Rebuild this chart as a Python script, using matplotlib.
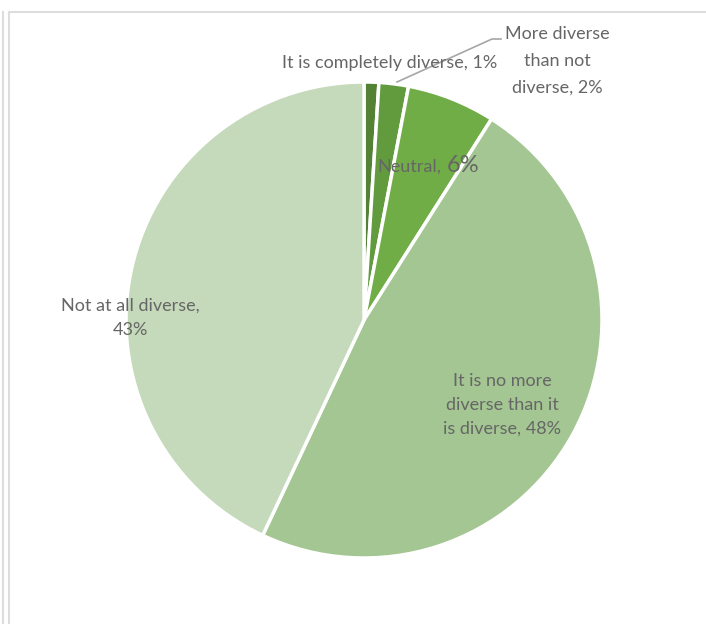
import matplotlib.pyplot as plt
from matplotlib.lines import Line2D

labels = ["It is completely diverse", "More diverse than not diverse", "Neutral",
          "It is no more diverse than it is diverse", "Not at all diverse"]
values = [1, 2, 6, 48, 43]
colors = ["#548235", "#629B3E", "#70AD47", "#A3C692", "#C5D9BB"]

W, H = 706, 624
fig = plt.figure(figsize=(W / 100, H / 100), dpi=100)
ax = fig.add_axes([0, 0, 1, 1])

def Y(py):
    return H - py

ax.pie(values, colors=colors, startangle=90, counterclock=False,
       center=(364, Y(320)), radius=238, frame=True,
       wedgeprops=dict(edgecolor="white", linewidth=2.5))
ax.set_xlim(0, W)
ax.set_ylim(0, H)
ax.axis("off")

tc = "#666666"
fam = ["Lato", "DejaVu Sans"]
fs = 13
ax.text(497, Y(63), "It is completely diverse, 1%", ha="right", va="center",
        fontsize=fs, color=tc, family=fam)
ax.text(557, Y(61), "More diverse\nthan not\ndiverse, 2%", ha="center", va="center",
        fontsize=fs, color=tc, family=fam, linespacing=1.85)
ax.text(441, Y(167), "Neutral,", ha="right", va="center",
        fontsize=fs, color=tc, family=fam)
ax.text(447, Y(165), "6%", ha="left", va="center",
        fontsize=17, color=tc, family=fam)
ax.text(130, Y(318), "Not at all diverse,\n43%", ha="center", va="center",
        fontsize=fs, color=tc, family=fam, linespacing=1.6)
ax.text(502, Y(405), "It is no more\ndiverse than it\nis diverse, 48%", ha="center", va="center",
        fontsize=fs, color=tc, family=fam, linespacing=1.6)

# leader line for the 2% slice
ax.plot([397, 492, 501], [Y(82), Y(39), Y(39)], color="#A6A6A6", linewidth=1.2)

# chart area borders
bc = "#DDDDDD"
fig.add_artist(Line2D([3 / W, 3 / W], [0, Y(12) / H], color=bc, linewidth=1.5))
fig.add_artist(Line2D([9 / W, 9 / W], [0, Y(12) / H], color=bc, linewidth=1.5))
fig.add_artist(Line2D([9 / W, 1], [Y(12) / H, Y(12) / H], color=bc, linewidth=1.5))

fig.savefig("out.png", dpi=100)
